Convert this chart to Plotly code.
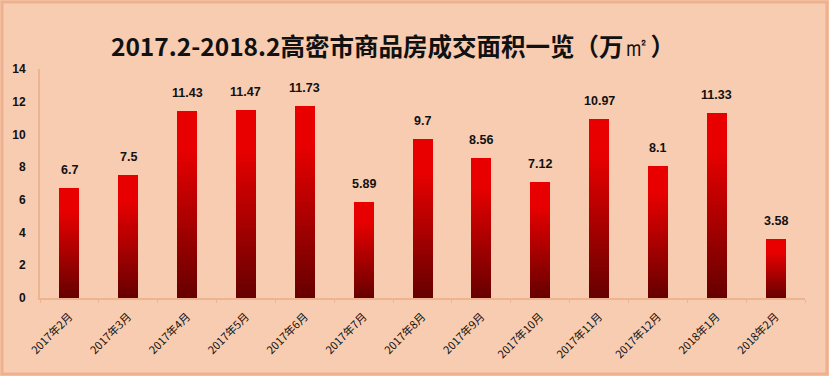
import plotly.graph_objects as go

categories = ["2017年2月", "2017年3月", "2017年4月", "2017年5月", "2017年6月", "2017年7月",
              "2017年8月", "2017年9月", "2017年10月", "2017年11月", "2017年12月", "2018年1月", "2018年2月"]
values = [6.7, 7.5, 11.43, 11.47, 11.73, 5.89, 9.7, 8.56, 7.12, 10.97, 8.1, 11.33, 3.58]
value_labels = ["6.7", "7.5", "11.43", "11.47", "11.73", "5.89", "9.7", "8.56", "7.12", "10.97", "8.1", "11.33", "3.58"]
y_ticks = [0, 2, 4, 6, 8, 10, 12, 14]

title_text = ("2017.2-2018.2高密市商品房成交面积一览（万"
              "<span style='font-family:Liberation Serif;font-weight:normal;font-size:27px'>㎡</span>）")

N = 40
bottom_rgb = (0x68, 0x00, 0x00)
top_rgb = (0xE8, 0x00, 0x00)

fig = go.Figure()
for k in range(N):
    t = k / (N - 1)
    t2 = min(1.0, t * 1.25)
    c = tuple(int(round(b + (tp - b) * t2)) for b, tp in zip(bottom_rgb, top_rgb))
    fig.add_trace(go.Bar(
        x=categories, y=[v / N for v in values],
        marker=dict(color="rgb(%d,%d,%d)" % c, line=dict(width=0)),
        showlegend=False, hoverinfo="skip"))

for cat, v, lab in zip(categories, values, value_labels):
    fig.add_annotation(x=cat, y=v, text="<b>%s</b>" % lab, showarrow=False,
                       yanchor="bottom", yshift=9,
                       font=dict(family="Liberation Sans, Arial", size=12.5, color="#111111"))

fig.update_layout(
    barmode="stack", bargap=0.66,
    width=829, height=376,
    paper_bgcolor="#f8ccb0", plot_bgcolor="#f8ccb0",
    margin=dict(l=40, r=24, t=69, b=78),
    title=dict(text=title_text, x=0.474, xanchor="center", y=0.875, yanchor="middle",
               yref="container",
               font=dict(family="Noto Sans CJK SC", size=24.5, color="#111111", weight="bold")),
    xaxis=dict(type="category", tickangle=-45, showgrid=False,
               showline=True, linecolor="#eeb48f", linewidth=2,
               ticks="outside", ticklen=3, tickcolor="#eeb48f", tickson="boundaries",
               ticklabelstandoff=6,
               tickfont=dict(family="Noto Sans CJK SC", size=11, color="#111111")),
    yaxis=dict(range=[0, 14], tickvals=y_ticks, showgrid=False, zeroline=False,
               showline=True, linecolor="#eeb48f", linewidth=2, ticks="",
               ticklabelstandoff=10,
               tickfont=dict(family="Liberation Sans, Arial", size=12, color="#111111", weight="bold")),
    shapes=[dict(type="rect", xref="paper", yref="paper",
                 x0=-38 / 765, x1=1 + 22 / 765, y0=-76 / 229, y1=1 + 67 / 229,
                 line=dict(color="#eeb08d", width=3), fillcolor="rgba(0,0,0,0)", layer="below")],
)

fig.write_html("out.html", config={"displayModeBar": False},
               post_script="document.body.style.margin='0';document.body.style.overflow='hidden';")
